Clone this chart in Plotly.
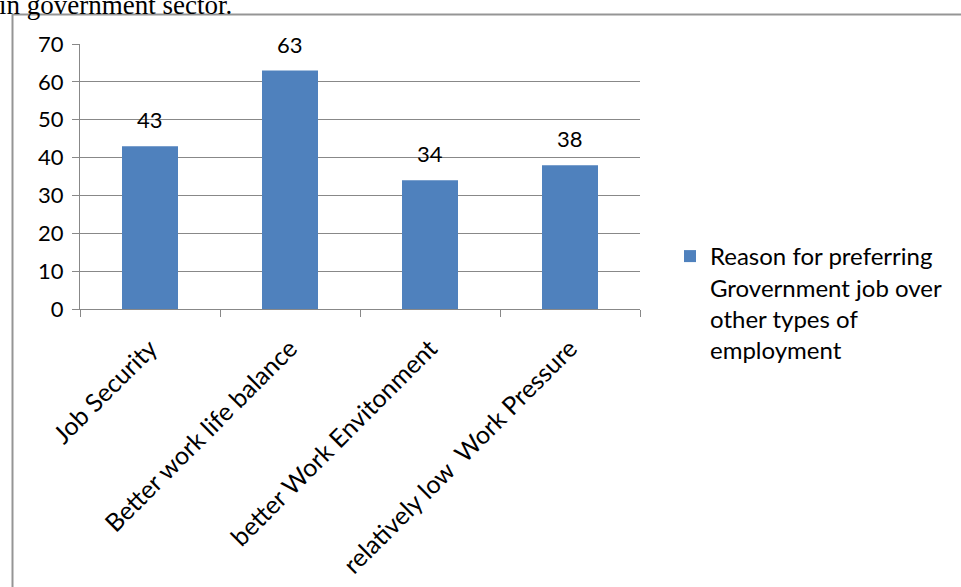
import plotly.graph_objects as go

categories = ["Job Security", "Better work life balance", "better Work Envitonment", "relatively low\u00a0 Work Pressure"]
values = [43, 63, 34, 38]
series_name = "Reason for preferring<br>Grovernment job over<br>other types of<br>employment"
y_ticks = [0, 10, 20, 30, 40, 50, 60, 70]
heading = "in government sector."

W, H = 961, 587
L, R, T, B = 80, 640, 44, 309  # plot area in px
pw, ph = R - L, B - T

def px(xp):
    return (xp - L) / pw

def py(yp):
    return (B - yp) / ph

FONT = "Lato"
GRID = "#888888"

fig = go.Figure()
fig.add_trace(go.Bar(
    x=categories, y=values, name=series_name,
    marker=dict(color="#4F81BD", line=dict(width=0)),
    showlegend=True,
))

for c, v in zip(categories, values):
    fig.add_annotation(x=c, y=v, text=str(v), showarrow=False,
                       xref="x", yref="y", yanchor="bottom", yshift=11,
                       font=dict(family=FONT, size=22, color="black"))

fig.add_annotation(text=heading, xref="paper", yref="paper",
                   x=px(-3), y=py(5), xanchor="left", yanchor="middle",
                   showarrow=False,
                   font=dict(family="Liberation Serif", size=27, color="black"))

fig.add_shape(type="rect", xref="paper", yref="paper",
              x0=px(12.5), x1=px(990), y0=py(620), y1=py(14.5),
              line=dict(color="#959595", width=2), fillcolor="rgba(0,0,0,0)",
              layer="below")

fig.update_layout(
    width=W, height=H,
    margin=dict(l=L, r=W - R, t=T, b=H - B, pad=0, autoexpand=False),
    paper_bgcolor="white", plot_bgcolor="white",
    bargap=0.6,
    font=dict(family=FONT, size=22, color="black"),
    legend=dict(x=px(670), y=py(234), xanchor="left", yanchor="top",
                valign="top", font=dict(family=FONT, size=24, color="black"),
                bgcolor="rgba(0,0,0,0)", tracegroupgap=0),
    xaxis=dict(type="category", showline=True, linecolor=GRID, linewidth=1,
               ticks="outside", ticklen=7, tickcolor=GRID, tickson="boundaries",
               tickangle=-45, showgrid=False, zeroline=False, ticklabelstandoff=14,
               automargin=False,
               tickfont=dict(family=FONT, size=25, color="black")),
    yaxis=dict(range=[0, 70], tickvals=y_ticks, showline=True, linecolor=GRID, linewidth=1,
               ticks="outside", ticklen=7, tickcolor=GRID, showgrid=True,
               gridcolor=GRID, gridwidth=1, zeroline=False, ticklabelstandoff=4,
               automargin=False,
               tickfont=dict(family=FONT, size=22, color="black")),
)

fig.write_html("out.html", config={"displayModeBar": False},
               post_script="document.body.style.margin='0px';")
